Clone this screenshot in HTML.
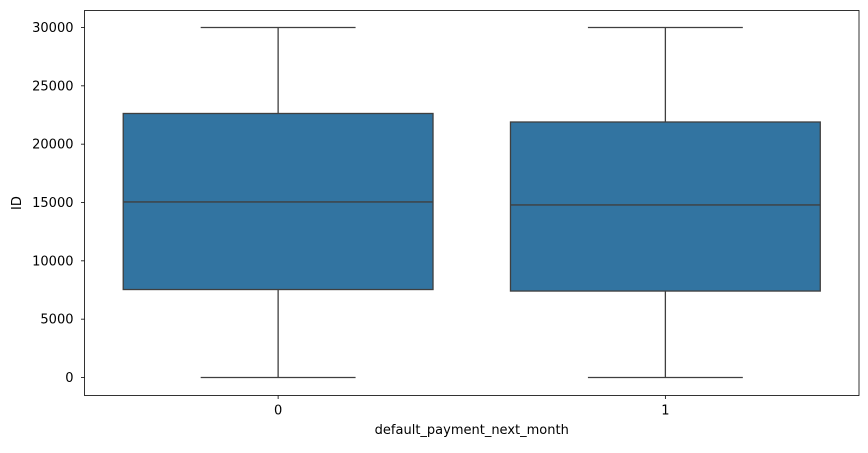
<!DOCTYPE html>
<html><head><meta charset="utf-8"><style>
body{margin:0;background:#fff;}
svg text{font-family:"DejaVu Sans","Liberation Sans",sans-serif;font-size:13px;fill:#000;}
</style></head><body>
<svg id="chart" width="868" height="448"></svg>
<script>
const categories=["0","1"];
const mins=[1,2];
const q1s=[7540,7410];
const medians=[15050,14790];
const q3s=[22630,21900];
const maxs=[30000,29999];
const yTicks=[0,5000,10000,15000,20000,25000,30000];
const L=84.5,R=859,T=10.5,B=395.5;
const yMin=-1543,yMax=31457;
const y=v=>B-(v-yMin)/(yMax-yMin)*(B-T);
const x=i=>L+(i+0.5)/2*(R-L);
const svg=document.getElementById('chart');
const NS='http://www.w3.org/2000/svg';
function mk(tag,attrs,parent){const e=document.createElementNS(NS,tag);for(const k in attrs)e.setAttribute(k,attrs[k]);(parent||svg).appendChild(e);return e;}
const bw=(R-L)/2*0.8, cw=(R-L)/2*0.4;
categories.forEach((c,i)=>{
  const g=mk('g',{});
  
  
  const cx=x(i),st={stroke:'#3f3f3f','stroke-width':1.3,fill:'none'};
  mk('line',Object.assign({x1:cx,x2:cx,y1:y(q3s[i]),y2:y(maxs[i])},st),g);
  mk('line',Object.assign({x1:cx,x2:cx,y1:y(q1s[i]),y2:y(mins[i])},st),g);
  mk('line',Object.assign({x1:cx-cw/2,x2:cx+cw/2,y1:y(maxs[i]),y2:y(maxs[i])},st),g);
  mk('line',Object.assign({x1:cx-cw/2,x2:cx+cw/2,y1:y(mins[i]),y2:y(mins[i])},st),g);
  mk('rect',{x:cx-bw/2,y:y(q3s[i]),width:bw,height:y(q1s[i])-y(q3s[i]),fill:'#3274a1',stroke:'#3f3f3f','stroke-width':1.3},g);
  mk('line',Object.assign({x1:cx-bw/2,x2:cx+bw/2,y1:y(medians[i]),y2:y(medians[i])},st),g);
  mk('line',{x1:cx,x2:cx,y1:B,y2:B+3.5,stroke:'#000','stroke-width':0.8});
  const t=mk('text',{x:cx,y:B+19,'text-anchor':'middle'});t.textContent=c;
  
  
});
yTicks.forEach(v=>{
  mk('line',{x1:L-3.5,x2:L,y1:y(v),y2:y(v),stroke:'#000','stroke-width':0.8});
  const t=mk('text',{x:L-11,y:y(v)+4.5,'text-anchor':'end'});t.textContent=v;
  
  
});
const frame=mk('rect',{x:L,y:T,width:R-L,height:B-T,fill:'none',stroke:'#000','stroke-width':0.8});


const xt=mk('text',{x:(L+R)/2,y:434,'text-anchor':'middle'});xt.textContent='default_payment_next_month';


const yt=mk('text',{x:21,y:(T+B)/2,'text-anchor':'middle',transform:'rotate(-90 21 '+((T+B)/2)+')'});yt.textContent='ID';


</script>
</body></html>
